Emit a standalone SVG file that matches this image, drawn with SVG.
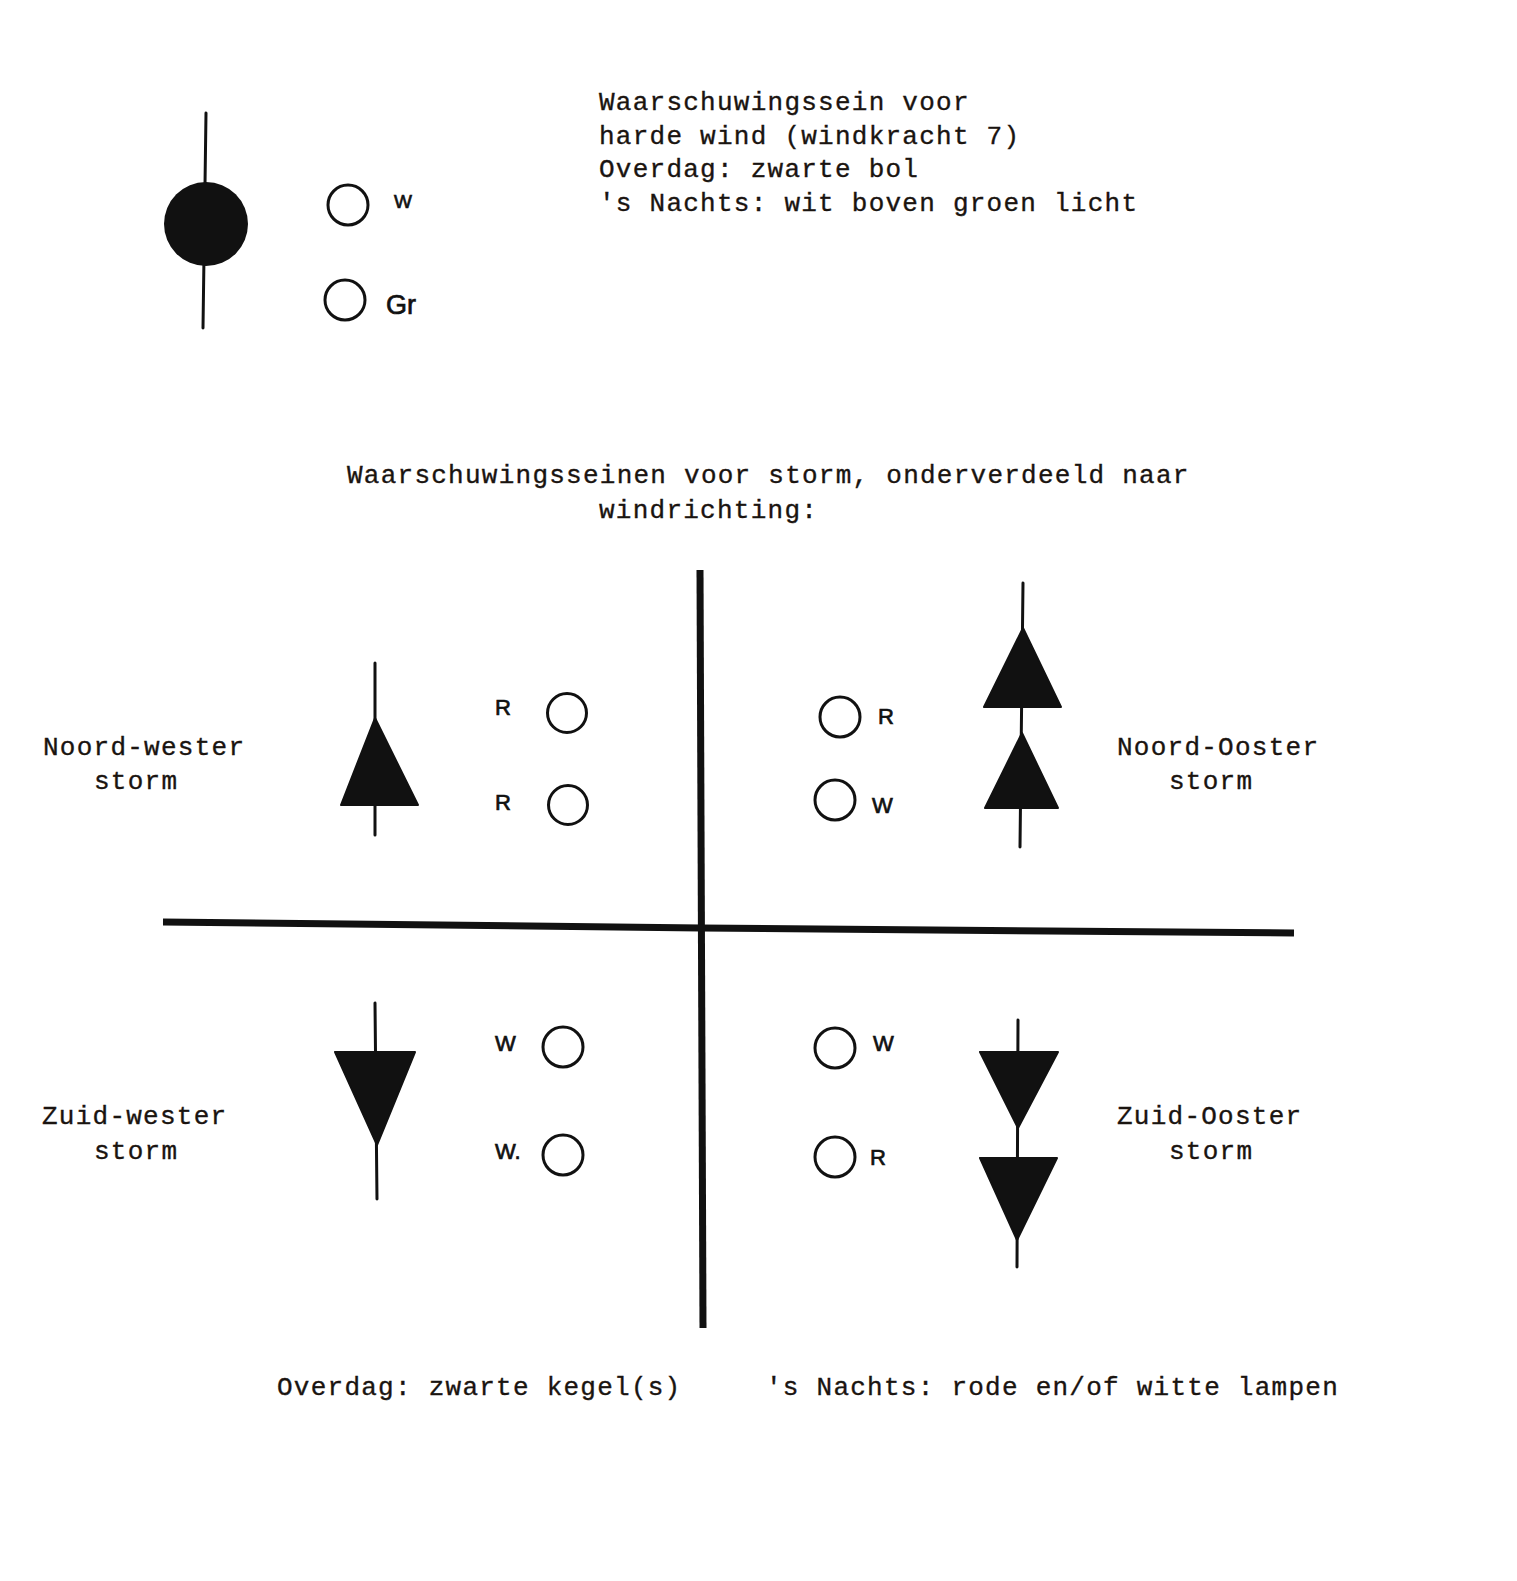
<svg xmlns="http://www.w3.org/2000/svg" width="1517" height="1581" viewBox="0 0 1517 1581">
<style>
.t{font-family:"Liberation Mono","DejaVu Sans Mono",monospace;font-size:26px;letter-spacing:1.25px;fill:#1a1410;stroke:#1a1410;stroke-width:0.35}
.h{font-family:"Liberation Sans",Arial,sans-serif;font-size:22px;fill:#111;stroke:#111;stroke-width:0.7}
.lamp{fill:none;stroke:#111;stroke-width:3}
.stick{stroke:#111;stroke-width:3;fill:none;stroke-linecap:round}
.cone{fill:#111;stroke:#111;stroke-width:2;stroke-linejoin:round}
.axis{stroke:#111;stroke-width:7;fill:none}
</style>
<rect width="1517" height="1581" fill="#fff"/>

<g id="harde-wind">
  <line class="stick" x1="206" y1="113" x2="203" y2="328"/>
  <circle cx="206" cy="224" r="42" fill="#111"/>
  <circle class="lamp" cx="348" cy="205" r="20"/>
  <text class="h" x="394" y="208" style="font-size:19px">W</text>
  <circle class="lamp" cx="345" cy="300" r="20"/>
  <text class="h" x="386" y="314" style="font-size:27px">Gr</text>
</g>

<g id="top-text">
  <text class="t" x="599" y="110">Waarschuwingssein voor</text>
  <text class="t" x="599" y="144">harde wind (windkracht 7)</text>
  <text class="t" x="599" y="177">Overdag: zwarte bol</text>
  <text class="t" x="599" y="211">'s Nachts: wit boven groen licht</text>
</g>

<g id="header">
  <text class="t" x="347" y="483">Waarschuwingsseinen voor storm, onderverdeeld naar</text>
  <text class="t" x="599" y="518">windrichting:</text>
</g>

<g id="axes">
  <line class="axis" x1="700" y1="570" x2="703" y2="1328"/>
  <polyline class="axis" points="163,922 701,928 1294,933"/>
</g>

<g id="noord-wester">
  <line class="stick" x1="375" y1="663" x2="375" y2="835"/>
  <polygon class="cone" points="375,718 341,805 418,805"/>
  <text class="h" x="495" y="715">R</text>
  <circle class="lamp" cx="567" cy="713" r="19.5"/>
  <text class="h" x="495" y="810">R</text>
  <circle class="lamp" cx="568" cy="805" r="19.5"/>
  <text class="t" x="43" y="755">Noord-wester</text>
  <text class="t" x="94" y="789">storm</text>
</g>

<g id="noord-ooster">
  <line class="stick" x1="1023" y1="583" x2="1020" y2="847"/>
  <polygon class="cone" points="1023,628 984,707 1061,707"/>
  <polygon class="cone" points="1022,733 985,808 1058,808"/>
  <circle class="lamp" cx="840" cy="717" r="20"/>
  <text class="h" x="878" y="724">R</text>
  <circle class="lamp" cx="835" cy="800" r="20"/>
  <text class="h" x="872" y="813">W</text>
  <text class="t" x="1117" y="755">Noord-Ooster</text>
  <text class="t" x="1169" y="789">storm</text>
</g>

<g id="zuid-wester">
  <line class="stick" x1="375" y1="1003" x2="377" y2="1199"/>
  <polygon class="cone" points="335,1052 415,1052 377,1145"/>
  <text class="h" x="495" y="1051">W</text>
  <circle class="lamp" cx="563" cy="1047" r="20"/>
  <text class="h" x="495" y="1159">W.</text>
  <circle class="lamp" cx="563" cy="1155" r="20"/>
  <text class="t" x="42" y="1124">Zuid-wester</text>
  <text class="t" x="94" y="1159">storm</text>
</g>

<g id="zuid-ooster">
  <line class="stick" x1="1018" y1="1020" x2="1017" y2="1267"/>
  <polygon class="cone" points="980,1052 1058,1052 1018,1128"/>
  <polygon class="cone" points="980,1158 1057,1158 1017,1240"/>
  <circle class="lamp" cx="835" cy="1048" r="20"/>
  <text class="h" x="873" y="1051">W</text>
  <circle class="lamp" cx="835" cy="1157" r="20"/>
  <text class="h" x="870" y="1165">R</text>
  <text class="t" x="1117" y="1124">Zuid-Ooster</text>
  <text class="t" x="1169" y="1159">storm</text>
</g>

<g id="footer">
  <text class="t" x="277" y="1395">Overdag: zwarte kegel(s)</text>
  <text class="t" x="766" y="1395">'s Nachts: rode en/of witte lampen</text>
</g>
</svg>
